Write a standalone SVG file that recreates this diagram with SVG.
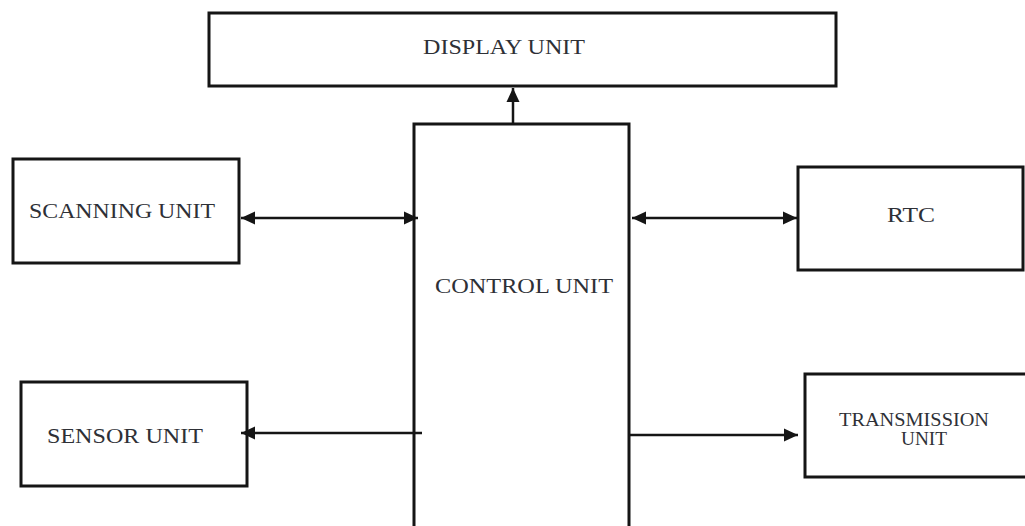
<svg xmlns="http://www.w3.org/2000/svg" width="1025" height="526" viewBox="0 0 1025 526">
  <style>
    .box { fill: #ffffff; stroke: #151515; stroke-width: 3; }
    .lbl { font-family: "Liberation Serif", "Times New Roman", serif; font-size: 21px; fill: #2e3036; text-anchor: middle; }
    .sm { font-size: 18px; }
    .conn { stroke: #151515; stroke-width: 2.5; fill: none; }
  </style>
  <defs>
    <marker id="ah" markerUnits="userSpaceOnUse" markerWidth="15" markerHeight="14" refX="14" refY="7" orient="auto-start-reverse">
      <path d="M0,0.5 L14,7 L0,13.5 z" fill="#151515"/>
    </marker>
  </defs>
  <rect width="1025" height="526" fill="#ffffff"/>

  <g id="display-unit">
    <rect class="box" x="209" y="13" width="627" height="73"/>
    <text class="lbl" x="504" y="54" textLength="162" lengthAdjust="spacingAndGlyphs">DISPLAY UNIT</text>
  </g>

  <g id="control-unit">
    <path class="box" d="M414,540 L414,124 L629,124 L629,540"/>
    <text class="lbl" x="524" y="293" textLength="178" lengthAdjust="spacingAndGlyphs">CONTROL UNIT</text>
  </g>

  <g id="scanning-unit">
    <rect class="box" x="13" y="159" width="226" height="104"/>
    <text class="lbl" x="122" y="218" textLength="186" lengthAdjust="spacingAndGlyphs">SCANNING UNIT</text>
  </g>

  <g id="rtc">
    <rect class="box" x="798" y="167" width="225" height="103"/>
    <text class="lbl" x="911" y="222" textLength="48" lengthAdjust="spacingAndGlyphs">RTC</text>
  </g>

  <g id="sensor-unit">
    <rect class="box" x="21" y="382" width="226" height="104"/>
    <text class="lbl" x="125" y="443" textLength="156" lengthAdjust="spacingAndGlyphs">SENSOR UNIT</text>
  </g>

  <g id="transmission-unit">
    <rect class="box" x="805" y="374" width="224" height="103"/>
    <text class="lbl sm" x="914" y="426" textLength="150" lengthAdjust="spacingAndGlyphs">TRANSMISSION</text>
    <text class="lbl sm" x="924" y="445" textLength="46" lengthAdjust="spacingAndGlyphs">UNIT</text>
  </g>

  <g id="connectors">
    <line class="conn" x1="513" y1="123" x2="513" y2="88" marker-end="url(#ah)"/>
    <line class="conn" x1="241" y1="218" x2="418" y2="218" marker-start="url(#ah)" marker-end="url(#ah)"/>
    <line class="conn" x1="632" y1="218" x2="797" y2="218" marker-start="url(#ah)" marker-end="url(#ah)"/>
    <line class="conn" x1="422" y1="433" x2="241" y2="433" marker-end="url(#ah)"/>
    <line class="conn" x1="630" y1="435" x2="798" y2="435" marker-end="url(#ah)"/>
  </g>
</svg>
